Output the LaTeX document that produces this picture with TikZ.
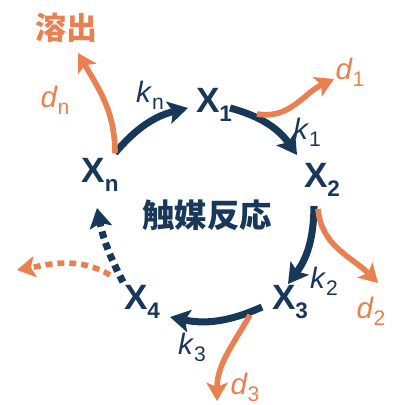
\documentclass[tikz,border=0pt]{standalone}
\usepackage{fontspec}
\setmainfont{Liberation Sans}
\newfontfamily\cjk{Noto Sans CJK JP}
\usetikzlibrary{arrows.meta}
\definecolor{navy}{RGB}{24,56,90}
\definecolor{rust}{RGB}{234,128,80}
\newcommand{\spec}[1]{\textbf{X}\raisebox{-0.5ex}{\fontsize{16}{16}\selectfont\bfseries #1}}
\newcommand{\rate}[2]{\textit{#1}\raisebox{-0.45ex}{\fontsize{15}{15}\selectfont #2}}

\begin{document}
\begin{tikzpicture}[x=0.025cm, y=0.025cm,
  species/.style={text=navy, font=\fontsize{25}{25}\selectfont, inner sep=0pt},
  klabel/.style={text=navy, font=\fontsize{21}{21}\selectfont, inner sep=0pt},
  dlabel/.style={text=rust, font=\fontsize{21}{21}\selectfont, inner sep=0pt},
  react/.style={navy, line width=5pt, -{Stealth[length=14pt, width=16pt, inset=3pt]}},
  leak/.style={rust, line width=4pt, -{Stealth[length=13pt, width=15pt, inset=3pt]}},
  gap/.style={dash pattern=on 5pt off 3.5pt}]
\useasboundingbox (0,0) rectangle (405,405);

% species round the cycle
\node[species] (Xn) at (100,230) {\spec{n}};
\node[species] (X1) at (214,300) {\spec{1}};
\node[species] (X2) at (322,225) {\spec{2}};
\node[species] (X3) at (290,103) {\spec{3}};
\node[species] (X4) at (142,103) {\spec{4}};
\node[text=navy, font=\cjk\bfseries\fontsize{23}{23}\selectfont] (cat) at (207,190) {触媒反応};
\node[text=rust, font=\cjk\bfseries\fontsize{22}{22}\selectfont] (elu) at (66,377) {溶出};

% rate and loss labels
\node[klabel] (kn) at (150,310) {\rate{k}{n}};
\node[klabel] (k1) at (307,273) {\rate{k}{1}};
\node[klabel] (k2) at (324,124) {\rate{k}{2}};
\node[klabel] (k3) at (192,58) {\rate{k}{3}};
\node[dlabel] (dn) at (55,305) {\rate{d}{n}};
\node[dlabel] (d1) at (350,333) {\rate{d}{1}};
\node[dlabel] (d2) at (371,94) {\rate{d}{2}};
\node[dlabel] (d3) at (245,18) {\rate{d}{3}};

% arrow ends
\coordinate (n-a) at (115,252);
\coordinate (1-b) at (188,297);
\coordinate (1-a) at (230,297);
\coordinate (2-b) at (297,250);
\coordinate (2-a) at (314,199);
\coordinate (3-b) at (288,121);
\coordinate (3-a) at (262,98);
\coordinate (4-b) at (170,88);
\coordinate (4-a) at (123,123);
\coordinate (n-b) at (97,197);
\coordinate (n-d) at (78,352);
\coordinate (1-c) at (257,291);
\coordinate (1-d) at (334,326);
\coordinate (2-c) at (318,196);
\coordinate (2-d) at (378,122);
\coordinate (3-c) at (250,90);
\coordinate (3-d) at (217,4);
\coordinate (4-c) at (110,130);
\coordinate (4-d) at (17,135);

% catalytic cycle
\draw[react] (n-a) to[bend left=18] (1-b);
\draw[react] (1-a) to[bend left=20] (2-b);
\draw[react] (2-a) to[bend left=18] (3-b);
\draw[react] (3-a) to[bend left=18] (4-b);
\draw[react, gap] (4-a) to[bend left=8] (n-b);

% losses
\draw[leak] (n-a) to[out=90, in=-60] (n-d);
\draw[leak] (1-c) to[out=-10, in=205] (1-d);
\draw[leak] (2-c) to[out=-85, in=135] (2-d);
\draw[leak] (3-c) to[out=240, in=90] (3-d);
\draw[leak, gap] (4-c) to[out=150, in=10] (4-d);
\end{tikzpicture}
\end{document}
